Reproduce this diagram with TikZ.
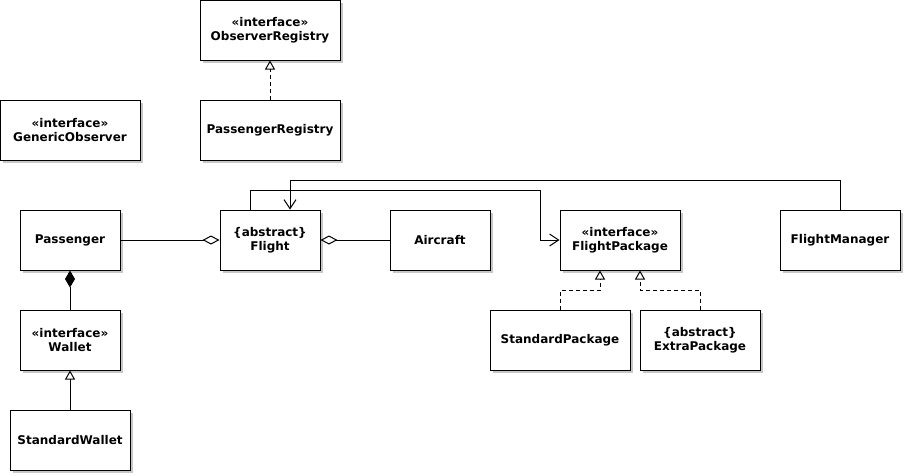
\documentclass[tikz,border=0pt]{standalone}
\usepackage{fontspec}
\setmainfont{DejaVu Sans}
\usetikzlibrary{arrows.meta,shadows}
\begin{document}
\begin{tikzpicture}[x=1pt,y=-1pt,
  cls/.style={draw, fill=white, line width=1pt, align=center, inner sep=0pt,
    font=\bfseries\fontsize{12}{14}\selectfont,
    drop shadow={shadow xshift=3pt, shadow yshift=-3pt, fill=black!22, opacity=1}},
  ln/.style={line width=1pt},
  dsh/.style={ln, dash pattern=on 4pt off 3pt},
  real/.style={-{Triangle[open,length=9pt,width=10pt]}},
  agg/.style={-{Diamond[open,length=17pt,width=9pt]}},
  comp/.style={-{Diamond[length=17pt,width=10pt]}},
  assoc/.style={-{Straight Barb[length=9pt,width=12pt]}}
]
\useasboundingbox (0,0) rectangle (905,475);

\node[cls, minimum width=140pt, minimum height=60pt] (oreg) at (270,30) {«interface»\\ObserverRegistry};
\node[cls, minimum width=140pt, minimum height=60pt] (preg) at (270,130) {PassengerRegistry};
\node[cls, minimum width=140pt, minimum height=60pt] (gobs) at (70,130) {«interface»\\GenericObserver};
\node[cls, minimum width=100pt, minimum height=60pt] (pass) at (70,240) {Passenger};
\node[cls, minimum width=100pt, minimum height=60pt] (flight) at (270,240) {\{abstract\}\\Flight};
\node[cls, minimum width=100pt, minimum height=60pt] (air) at (440,240) {Aircraft};
\node[cls, minimum width=120pt, minimum height=60pt] (fpkg) at (620,240) {«interface»\\FlightPackage};
\node[cls, minimum width=120pt, minimum height=60pt] (fmgr) at (840,240) {FlightManager};
\node[cls, minimum width=100pt, minimum height=60pt] (wallet) at (70,340) {«interface»\\Wallet};
\node[cls, minimum width=120pt, minimum height=60pt] (swallet) at (70,440) {StandardWallet};
\node[cls, minimum width=140pt, minimum height=60pt] (spkg) at (560,340) {StandardPackage};
\node[cls, minimum width=120pt, minimum height=60pt] (epkg) at (700,340) {\{abstract\}\\ExtraPackage};

\draw[dsh, real] (preg) -- (oreg);
\draw[ln, agg] (pass) -- (flight);
\draw[ln, agg] (air) -- (flight);
\draw[ln, comp] (wallet) -- (pass);
\draw[ln, real] (swallet) -- (wallet);
\draw[ln, assoc] ([xshift=-20pt]flight.north) |- (540,190) |- (fpkg.west);
\draw[ln, assoc] (fmgr.north) |- (290,180) -- ([xshift=20pt]flight.north);
\draw[dsh, real] (spkg.north) |- (600,290) -- ([xshift=-20pt]fpkg.south);
\draw[dsh, real] (epkg.north) |- (640,290) -- ([xshift=20pt]fpkg.south);
\end{tikzpicture}
\end{document}
